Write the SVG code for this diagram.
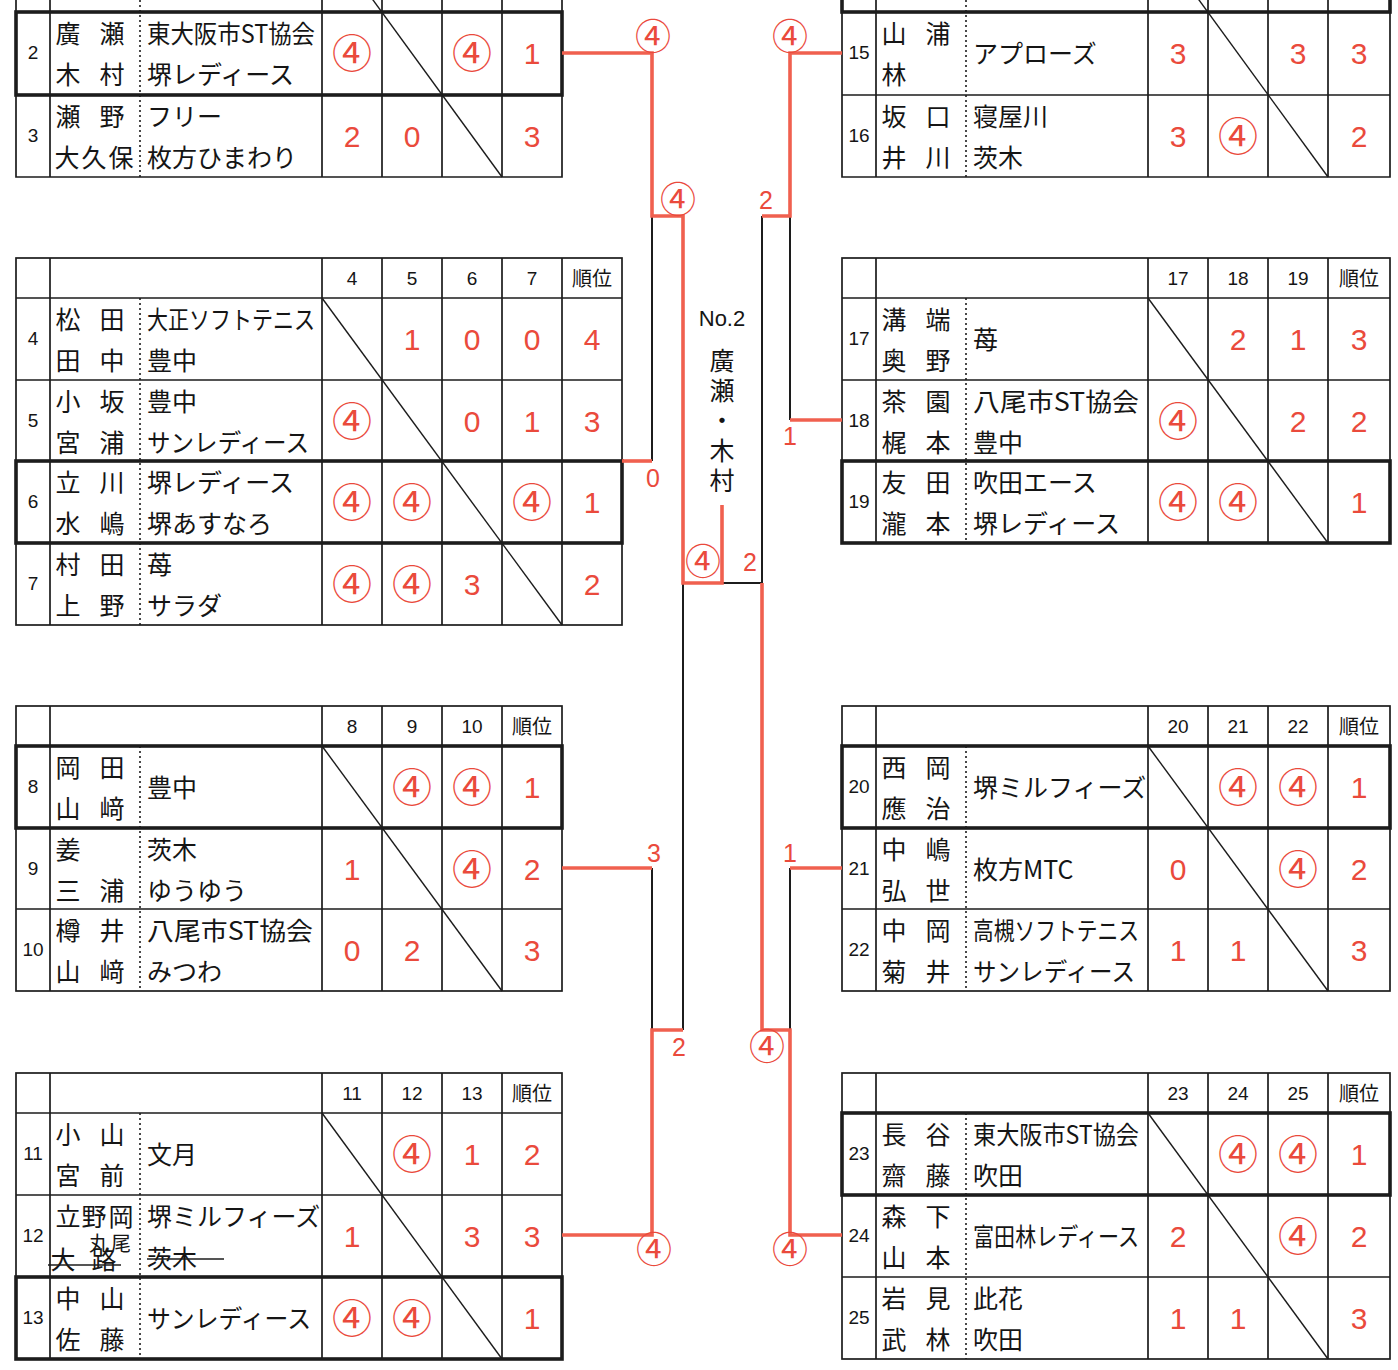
<svg xmlns="http://www.w3.org/2000/svg" width="1398" height="1370" viewBox="0 0 1398 1370">
<style>
.bg{fill:#fff}
.g{fill:none;stroke:#1c1c1c;stroke-width:1.7}
.bd{fill:none;stroke:#1c1c1c;stroke-width:3.6}
.dt{fill:none;stroke:#1c1c1c;stroke-width:1.6;stroke-dasharray:2 3}
.dg{fill:none;stroke:#1c1c1c;stroke-width:1.4}
.nm{font-family:"Noto Sans CJK JP","Noto Sans CJK SC",sans-serif;font-size:25px;fill:#151515}
.nc{font-family:"Noto Sans CJK JP","Noto Sans CJK SC",sans-serif;font-size:25px;fill:#151515;text-anchor:middle}
.sm{font-family:"Noto Sans CJK JP","Noto Sans CJK SC",sans-serif;font-size:20px;fill:#151515;text-anchor:middle}
.no{font-family:"Liberation Sans Narrow","Liberation Sans",sans-serif;font-size:19px;fill:#151515;text-anchor:middle}
.hj{font-family:"Noto Sans CJK JP","Noto Sans CJK SC",sans-serif;font-size:20px;fill:#151515;text-anchor:middle}
.sc{font-family:"Liberation Sans Narrow","Liberation Sans",sans-serif;font-size:30px;fill:#ea4a3c;text-anchor:middle}
.cc{font-family:"Noto Sans CJK JP","Noto Sans CJK SC",sans-serif;font-size:40px;fill:#ea4a3c;text-anchor:middle;transform:translateY(3.7px)}
.lb{font-family:"Liberation Sans Narrow","Liberation Sans",sans-serif;font-size:25px;fill:#ea4a3c;text-anchor:middle}
.lc{font-family:"Noto Sans CJK JP","Noto Sans CJK SC",sans-serif;font-size:36px;fill:#ea4a3c;text-anchor:middle;transform:translateY(3.2px)}
.rl{fill:none;stroke:#f0604f;stroke-width:3.6}
.bl{fill:none;stroke:#1c1c1c;stroke-width:2}
.ct{font-family:"Liberation Sans","Noto Sans CJK JP",sans-serif;font-size:22px;fill:#151515;text-anchor:middle}
.vt{font-family:"Noto Sans CJK JP","Noto Sans CJK SC",sans-serif;font-size:25px;fill:#151515;writing-mode:vertical-rl;letter-spacing:5px}
</style>
<rect class="bg" x="0" y="0" width="1398" height="1370"/>

<!-- ===== Left table 1 (1-3) ===== -->
<g id="table-1">
<path class="g" d="M16,0V177H562V0M16,95H562M50,0V177M322,0V177M382,0V177M442,0V177M502,0V177"/>
<path class="dt" d="M140,0V177"/>
<path class="dg" d="M322,-70L502,177"/>
<rect class="bd" x="16" y="12" width="546" height="83"/>
<g id="p2">
<text class="no" x="33" y="59">2</text>
<text class="nc" x="68 112" y="42.5">廣瀬</text>
<text class="nc" x="68 112" y="83.5">木村</text>
<text class="nm" x="147" y="42.5" textLength="168" lengthAdjust="spacingAndGlyphs">東大阪市ST協会</text>
<text class="nm" x="147" y="83.5">堺レディース</text>
<text class="cc" x="352" y="64">④</text><text class="cc" x="472" y="64">④</text><text class="sc" x="532" y="64">1</text>
</g>
<g id="p3">
<text class="no" x="33" y="142">3</text>
<text class="nc" x="68 112" y="125.5">瀬野</text>
<text class="nc" x="67 94 121" y="166.5">大久保</text>
<text class="nm" x="147" y="125.5">フリー</text>
<text class="nm" x="147" y="166.5">枚方ひまわり</text>
<text class="sc" x="352" y="147">2</text><text class="sc" x="412" y="147">0</text><text class="sc" x="532" y="147">3</text>
</g>
</g>

<!-- ===== Left table 2 (4-7) ===== -->
<g id="table-2">
<rect class="g" x="16" y="258" width="606" height="367"/>
<path class="g" d="M16,298H622M16,380H622M16,461H622M16,543H622M50,258V625M322,258V625M382,258V625M442,258V625M502,258V625M562,258V625"/>
<path class="dt" d="M140,298V625"/>
<path class="dg" d="M322,298L562,625"/>
<rect class="bd" x="16" y="461" width="606" height="82"/>
<text class="no" x="352" y="285">4</text><text class="no" x="412" y="285">5</text><text class="no" x="472" y="285">6</text><text class="no" x="532" y="285">7</text><text class="hj" x="592" y="285.5">順位</text>
<g id="p4">
<text class="no" x="33" y="345">4</text>
<text class="nc" x="68 112" y="328.5">松田</text>
<text class="nc" x="68 112" y="369.5">田中</text>
<text class="nm" x="147" y="328.5" textLength="168" lengthAdjust="spacingAndGlyphs">大正ソフトテニス</text>
<text class="nm" x="147" y="369.5">豊中</text>
<text class="sc" x="412" y="350">1</text><text class="sc" x="472" y="350">0</text><text class="sc" x="532" y="350">0</text><text class="sc" x="592" y="350">4</text>
</g>
<g id="p5">
<text class="no" x="33" y="427">5</text>
<text class="nc" x="68 112" y="410.5">小坂</text>
<text class="nc" x="68 112" y="451.5">宮浦</text>
<text class="nm" x="147" y="410.5">豊中</text>
<text class="nm" x="147" y="451.5" textLength="162" lengthAdjust="spacingAndGlyphs">サンレディース</text>
<text class="cc" x="352" y="432">④</text><text class="sc" x="472" y="432">0</text><text class="sc" x="532" y="432">1</text><text class="sc" x="592" y="432">3</text>
</g>
<g id="p6">
<text class="no" x="33" y="508">6</text>
<text class="nc" x="68 112" y="491.5">立川</text>
<text class="nc" x="68 112" y="532.5">水嶋</text>
<text class="nm" x="147" y="491.5">堺レディース</text>
<text class="nm" x="147" y="532.5">堺あすなろ</text>
<text class="cc" x="352" y="513">④</text><text class="cc" x="412" y="513">④</text><text class="cc" x="532" y="513">④</text><text class="sc" x="592" y="513">1</text>
</g>
<g id="p7">
<text class="no" x="33" y="590">7</text>
<text class="nc" x="68 112" y="573.5">村田</text>
<text class="nc" x="68 112" y="614.5">上野</text>
<text class="nm" x="147" y="573.5">苺</text>
<text class="nm" x="147" y="614.5">サラダ</text>
<text class="cc" x="352" y="595">④</text><text class="cc" x="412" y="595">④</text><text class="sc" x="472" y="595">3</text><text class="sc" x="592" y="595">2</text>
</g>
</g>

<!-- ===== Left table 3 (8-10) ===== -->
<g id="table-3">
<rect class="g" x="16" y="706" width="546" height="285"/>
<path class="g" d="M16,746H562M16,828H562M16,909H562M50,706V991M322,706V991M382,706V991M442,706V991M502,706V991"/>
<path class="dt" d="M140,746V991"/>
<path class="dg" d="M322,746L502,991"/>
<rect class="bd" x="16" y="746" width="546" height="82"/>
<text class="no" x="352" y="733">8</text><text class="no" x="412" y="733">9</text><text class="no" x="472" y="733">10</text><text class="hj" x="532" y="733.5">順位</text>
<g id="p8">
<text class="no" x="33" y="793">8</text>
<text class="nc" x="68 112" y="776.5">岡田</text>
<text class="nc" x="68 112" y="817.5">山﨑</text>
<text class="nm" x="147" y="796.5">豊中</text>
<text class="cc" x="412" y="798">④</text><text class="cc" x="472" y="798">④</text><text class="sc" x="532" y="798">1</text>
</g>
<g id="p9">
<text class="no" x="33" y="875">9</text>
<text class="nc" x="68" y="858.5">姜</text>
<text class="nc" x="68 112" y="899.5">三浦</text>
<text class="nm" x="147" y="858.5">茨木</text>
<text class="nm" x="147" y="899.5">ゆうゆう</text>
<text class="sc" x="352" y="880">1</text><text class="cc" x="472" y="880">④</text><text class="sc" x="532" y="880">2</text>
</g>
<g id="p10">
<text class="no" x="33" y="956">10</text>
<text class="nc" x="68 112" y="939.5">樽井</text>
<text class="nc" x="68 112" y="980.5">山﨑</text>
<text class="nm" x="147" y="939.5" textLength="166" lengthAdjust="spacingAndGlyphs">八尾市ST協会</text>
<text class="nm" x="147" y="980.5">みつわ</text>
<text class="sc" x="352" y="961">0</text><text class="sc" x="412" y="961">2</text><text class="sc" x="532" y="961">3</text>
</g>
</g>

<!-- ===== Left table 4 (11-13) ===== -->
<g id="table-4">
<rect class="g" x="16" y="1073" width="546" height="286"/>
<path class="g" d="M16,1113H562M16,1195H562M16,1277H562M50,1073V1359M322,1073V1359M382,1073V1359M442,1073V1359M502,1073V1359"/>
<path class="dt" d="M140,1113V1359"/>
<path class="dg" d="M322,1113L502,1359"/>
<rect class="bd" x="16" y="1277" width="546" height="82"/>
<text class="no" x="352" y="1100">11</text><text class="no" x="412" y="1100">12</text><text class="no" x="472" y="1100">13</text><text class="hj" x="532" y="1100.5">順位</text>
<g id="p11">
<text class="no" x="33" y="1160">11</text>
<text class="nc" x="68 112" y="1143.5">小山</text>
<text class="nc" x="68 112" y="1184.5">宮前</text>
<text class="nm" x="147" y="1163.5">文月</text>
<text class="cc" x="412" y="1165">④</text><text class="sc" x="472" y="1165">1</text><text class="sc" x="532" y="1165">2</text>
</g>
<g id="p12">
<text class="no" x="33" y="1242">12</text>
<text class="nc" x="68 94 121" y="1225.5">立野岡</text>
<text class="nc" x="63 104" y="1269">大路</text>
<text class="sm" x="99 121" y="1251">丸尾</text>
<path class="g" d="M48,1265H121"/>
<text class="nm" x="147" y="1225.5">堺ミルフィーズ</text>
<text class="nm" x="147" y="1268">茨木</text>
<path class="g" d="M147,1259H224"/>
<text class="sc" x="352" y="1247">1</text><text class="sc" x="472" y="1247">3</text><text class="sc" x="532" y="1247">3</text>
</g>
<g id="p13">
<text class="no" x="33" y="1324">13</text>
<text class="nc" x="68 112" y="1307.5">中山</text>
<text class="nc" x="68 112" y="1348.5">佐藤</text>
<text class="nm" x="147" y="1327.5" textLength="164" lengthAdjust="spacingAndGlyphs">サンレディース</text>
<text class="cc" x="352" y="1329">④</text><text class="cc" x="412" y="1329">④</text><text class="sc" x="532" y="1329">1</text>
</g>
</g>

<!-- ===== Right table 1 (14-16) ===== -->
<g id="table-5">
<path class="g" d="M842,0V177H1390V0M842,95H1390M876,0V177M1148,0V177M1208,0V177M1268,0V177M1328,0V177"/>
<path class="dt" d="M966,0V177"/>
<path class="dg" d="M1148,-70L1328,177"/>
<rect class="bd" x="842" y="-70" width="548" height="82"/>
<g id="p15">
<text class="no" x="859" y="59">15</text>
<text class="nc" x="894 938" y="42.5">山浦</text>
<text class="nc" x="894" y="83.5">林</text>
<text class="nm" x="973" y="62.5">アプローズ</text>
<text class="sc" x="1178" y="64">3</text><text class="sc" x="1298" y="64">3</text><text class="sc" x="1359" y="64">3</text>
</g>
<g id="p16">
<text class="no" x="859" y="142">16</text>
<text class="nc" x="894 938" y="125.5">坂口</text>
<text class="nc" x="894 938" y="166.5">井川</text>
<text class="nm" x="973" y="125.5">寝屋川</text>
<text class="nm" x="973" y="166.5">茨木</text>
<text class="sc" x="1178" y="147">3</text><text class="cc" x="1238" y="147">④</text><text class="sc" x="1359" y="147">2</text>
</g>
</g>

<!-- ===== Right table 2 (17-19) ===== -->
<g id="table-6">
<rect class="g" x="842" y="258" width="548" height="285"/>
<path class="g" d="M842,298H1390M842,380H1390M842,461H1390M876,258V543M1148,258V543M1208,258V543M1268,258V543M1328,258V543"/>
<path class="dt" d="M966,298V543"/>
<path class="dg" d="M1148,298L1328,543"/>
<rect class="bd" x="842" y="461" width="548" height="82"/>
<text class="no" x="1178" y="285">17</text><text class="no" x="1238" y="285">18</text><text class="no" x="1298" y="285">19</text><text class="hj" x="1359" y="285.5">順位</text>
<g id="p17">
<text class="no" x="859" y="345">17</text>
<text class="nc" x="894 938" y="328.5">溝端</text>
<text class="nc" x="894 938" y="369.5">奥野</text>
<text class="nm" x="973" y="348.5">苺</text>
<text class="sc" x="1238" y="350">2</text><text class="sc" x="1298" y="350">1</text><text class="sc" x="1359" y="350">3</text>
</g>
<g id="p18">
<text class="no" x="859" y="427">18</text>
<text class="nc" x="894 938" y="410.5">茶園</text>
<text class="nc" x="894 938" y="451.5">梶本</text>
<text class="nm" x="973" y="410.5" textLength="166" lengthAdjust="spacingAndGlyphs">八尾市ST協会</text>
<text class="nm" x="973" y="451.5">豊中</text>
<text class="cc" x="1178" y="432">④</text><text class="sc" x="1298" y="432">2</text><text class="sc" x="1359" y="432">2</text>
</g>
<g id="p19">
<text class="no" x="859" y="508">19</text>
<text class="nc" x="894 938" y="491.5">友田</text>
<text class="nc" x="894 938" y="532.5">瀧本</text>
<text class="nm" x="973" y="491.5">吹田エース</text>
<text class="nm" x="973" y="532.5">堺レディース</text>
<text class="cc" x="1178" y="513">④</text><text class="cc" x="1238" y="513">④</text><text class="sc" x="1359" y="513">1</text>
</g>
</g>

<!-- ===== Right table 3 (20-22) ===== -->
<g id="table-7">
<rect class="g" x="842" y="706" width="548" height="285"/>
<path class="g" d="M842,746H1390M842,828H1390M842,909H1390M876,706V991M1148,706V991M1208,706V991M1268,706V991M1328,706V991"/>
<path class="dt" d="M966,746V991"/>
<path class="dg" d="M1148,746L1328,991"/>
<rect class="bd" x="842" y="746" width="548" height="82"/>
<text class="no" x="1178" y="733">20</text><text class="no" x="1238" y="733">21</text><text class="no" x="1298" y="733">22</text><text class="hj" x="1359" y="733.5">順位</text>
<g id="p20">
<text class="no" x="859" y="793">20</text>
<text class="nc" x="894 938" y="776.5">西岡</text>
<text class="nc" x="894 938" y="817.5">應治</text>
<text class="nm" x="973" y="796.5">堺ミルフィーズ</text>
<text class="cc" x="1238" y="798">④</text><text class="cc" x="1298" y="798">④</text><text class="sc" x="1359" y="798">1</text>
</g>
<g id="p21">
<text class="no" x="859" y="875">21</text>
<text class="nc" x="894 938" y="858.5">中嶋</text>
<text class="nc" x="894 938" y="899.5">弘世</text>
<text class="nm" x="973" y="878.5">枚方MTC</text>
<text class="sc" x="1178" y="880">0</text><text class="cc" x="1298" y="880">④</text><text class="sc" x="1359" y="880">2</text>
</g>
<g id="p22">
<text class="no" x="859" y="956">22</text>
<text class="nc" x="894 938" y="939.5">中岡</text>
<text class="nc" x="894 938" y="980.5">菊井</text>
<text class="nm" x="973" y="939.5" textLength="166" lengthAdjust="spacingAndGlyphs">高槻ソフトテニス</text>
<text class="nm" x="973" y="980.5" textLength="162" lengthAdjust="spacingAndGlyphs">サンレディース</text>
<text class="sc" x="1178" y="961">1</text><text class="sc" x="1238" y="961">1</text><text class="sc" x="1359" y="961">3</text>
</g>
</g>

<!-- ===== Right table 4 (23-25) ===== -->
<g id="table-8">
<rect class="g" x="842" y="1073" width="548" height="286"/>
<path class="g" d="M842,1113H1390M842,1195H1390M842,1277H1390M876,1073V1359M1148,1073V1359M1208,1073V1359M1268,1073V1359M1328,1073V1359"/>
<path class="dt" d="M966,1113V1359"/>
<path class="dg" d="M1148,1113L1328,1359"/>
<rect class="bd" x="842" y="1113" width="548" height="82"/>
<text class="no" x="1178" y="1100">23</text><text class="no" x="1238" y="1100">24</text><text class="no" x="1298" y="1100">25</text><text class="hj" x="1359" y="1100.5">順位</text>
<g id="p23">
<text class="no" x="859" y="1160">23</text>
<text class="nc" x="894 938" y="1143.5">長谷</text>
<text class="nc" x="894 938" y="1184.5">齋藤</text>
<text class="nm" x="973" y="1143.5" textLength="166" lengthAdjust="spacingAndGlyphs">東大阪市ST協会</text>
<text class="nm" x="973" y="1184.5">吹田</text>
<text class="cc" x="1238" y="1165">④</text><text class="cc" x="1298" y="1165">④</text><text class="sc" x="1359" y="1165">1</text>
</g>
<g id="p24">
<text class="no" x="859" y="1242">24</text>
<text class="nc" x="894 938" y="1225.5">森下</text>
<text class="nc" x="894 938" y="1266.5">山本</text>
<text class="nm" x="973" y="1245.5" textLength="166" lengthAdjust="spacingAndGlyphs">富田林レディース</text>
<text class="sc" x="1178" y="1247">2</text><text class="cc" x="1298" y="1247">④</text><text class="sc" x="1359" y="1247">2</text>
</g>
<g id="p25">
<text class="no" x="859" y="1324">25</text>
<text class="nc" x="894 938" y="1307.5">岩見</text>
<text class="nc" x="894 938" y="1348.5">武林</text>
<text class="nm" x="973" y="1307.5">此花</text>
<text class="nm" x="973" y="1348.5">吹田</text>
<text class="sc" x="1178" y="1329">1</text><text class="sc" x="1238" y="1329">1</text><text class="sc" x="1359" y="1329">3</text>
</g>
</g>

<!-- ===== Bracket connectors ===== -->
<g id="connectors">
<path class="bl" d="M652,216V461M652,868V1030M683,583V1030M790,216V420M790,868V1030M762,216V583H722"/>
<path class="rl" d="M562,53H652V216H683V583H722V505"/>
<path class="rl" d="M622,461H652"/>
<path class="rl" d="M562,868H652"/>
<path class="rl" d="M562,1235H652V1030H683"/>
<path class="rl" d="M842,53H790V216H762"/>
<path class="rl" d="M842,420H790"/>
<path class="rl" d="M842,868H790"/>
<path class="rl" d="M842,1235H790V1030H762V583"/>
<text class="lc" x="653" y="47">④</text>
<text class="lc" x="678" y="210">④</text>
<text class="lb" x="653" y="487">0</text>
<text class="lc" x="790" y="47">④</text>
<text class="lb" x="766" y="209">2</text>
<text class="lb" x="790" y="445">1</text>
<text class="lc" x="703" y="572">④</text>
<text class="lb" x="750" y="571">2</text>
<text class="lb" x="654" y="862">3</text>
<text class="lb" x="790" y="862">1</text>
<text class="lb" x="679" y="1056">2</text>
<text class="lc" x="767" y="1057">④</text>
<text class="lc" x="654" y="1260">④</text>
<text class="lc" x="790" y="1260">④</text>
</g>

<!-- ===== Center winner label ===== -->
<g id="winner">
<text class="ct" x="722" y="326">No.2</text>
<text class="vt" x="722" y="348">廣瀬・木村</text>
</g>
</svg>
